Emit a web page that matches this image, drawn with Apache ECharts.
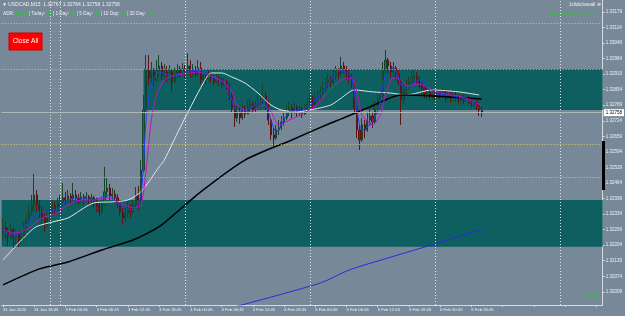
<!DOCTYPE html>
<html>
<head>
<meta charset="utf-8">
<title>USDCAD,M15</title>
<script src="https://cdn.jsdelivr.net/npm/echarts@6/dist/echarts.min.js"></script>
<style>
    html, body { margin: 0; padding: 0; background: #778899; }
    #chart { width: 625px; height: 316px; }
</style>
</head>
<body>
<div id="chart"></div>
<script>
// time labels, one every 12 bars
const timeLabels = ['31 Jan 2020', '31 Jan 16:45', '3 Feb 00:45', '3 Feb 06:45', '3 Feb 12:45', '3 Feb 18:45',
    '4 Feb 00:45', '4 Feb 06:45', '4 Feb 12:45', '4 Feb 18:45', '5 Feb 00:45', '5 Feb 06:45',
    '5 Feb 12:45', '5 Feb 18:45', '6 Feb 00:45', '6 Feb 06:45'];
const labelStep = 12;
const slotCount = 231;

// [open, close, low, high]
const candles = [
    [1.32247, 1.32276, 1.32226, 1.32318], [1.32276, 1.32259, 1.32235, 1.32301], [1.32259, 1.32243, 1.32201, 1.32276],
    [1.32243, 1.32268, 1.32226, 1.32293], [1.32268, 1.32235, 1.32192, 1.32276], [1.32235, 1.32251, 1.32209, 1.32268],
    [1.32251, 1.32226, 1.32197, 1.32259], [1.32226, 1.32243, 1.32209, 1.32268], [1.32243, 1.32276, 1.32226, 1.32301],
    [1.32276, 1.32309, 1.32259, 1.32334], [1.32309, 1.32343, 1.32293, 1.32372], [1.32343, 1.32372, 1.32326, 1.32414],
    [1.32372, 1.32414, 1.32351, 1.32502], [1.32414, 1.32372, 1.32343, 1.32435], [1.32372, 1.32351, 1.32318, 1.32393],
    [1.32351, 1.32318, 1.32293, 1.32368], [1.32318, 1.32289, 1.32259, 1.32334], [1.32289, 1.32318, 1.32276, 1.32351],
    [1.32318, 1.32343, 1.32301, 1.32372], [1.32343, 1.32368, 1.32326, 1.32393], [1.32368, 1.32351, 1.32330, 1.32385],
    [1.32351, 1.32376, 1.32343, 1.32402], [1.32376, 1.32385, 1.32360, 1.32414], [1.32385, 1.32402, 1.32368, 1.32464],
    [1.32402, 1.32393, 1.32372, 1.32427], [1.32393, 1.32410, 1.32381, 1.32435], [1.32410, 1.32397, 1.32376, 1.32422],
    [1.32397, 1.32414, 1.32385, 1.32464], [1.32414, 1.32402, 1.32381, 1.32435], [1.32402, 1.32393, 1.32376, 1.32418],
    [1.32393, 1.32406, 1.32381, 1.32427], [1.32406, 1.32397, 1.32376, 1.32418], [1.32397, 1.32406, 1.32385, 1.32427],
    [1.32406, 1.32393, 1.32372, 1.32414], [1.32393, 1.32402, 1.32381, 1.32418], [1.32402, 1.32385, 1.32360, 1.32410],
    [1.32385, 1.32368, 1.32343, 1.32402], [1.32368, 1.32343, 1.32326, 1.32381], [1.32343, 1.32372, 1.32334, 1.32402],
    [1.32372, 1.32427, 1.32368, 1.32531], [1.32427, 1.32443, 1.32402, 1.32485], [1.32443, 1.32410, 1.32393, 1.32460],
    [1.32410, 1.32418, 1.32393, 1.32443], [1.32418, 1.32402, 1.32381, 1.32435], [1.32402, 1.32381, 1.32360, 1.32418],
    [1.32381, 1.32343, 1.32326, 1.32393], [1.32343, 1.32318, 1.32289, 1.32360], [1.32318, 1.32334, 1.32301, 1.32368],
    [1.32334, 1.32360, 1.32322, 1.32385], [1.32360, 1.32343, 1.32318, 1.32376], [1.32343, 1.32372, 1.32334, 1.32393],
    [1.32372, 1.32414, 1.32360, 1.32447], [1.32414, 1.32393, 1.32351, 1.32452], [1.32393, 1.32518, 1.32372, 1.32560],
    [1.32518, 1.32769, 1.32510, 1.32832], [1.32769, 1.32936, 1.32761, 1.32999], [1.32936, 1.32903, 1.32874, 1.32999],
    [1.32903, 1.32928, 1.32878, 1.32970], [1.32928, 1.32895, 1.32870, 1.32945], [1.32895, 1.32936, 1.32886, 1.32978],
    [1.32936, 1.32953, 1.32903, 1.32999], [1.32953, 1.32916, 1.32895, 1.32970], [1.32916, 1.32928, 1.32895, 1.32961],
    [1.32928, 1.32911, 1.32886, 1.32953], [1.32911, 1.32928, 1.32895, 1.32957], [1.32928, 1.32886, 1.32845, 1.32936],
    [1.32886, 1.32920, 1.32878, 1.32945], [1.32920, 1.32936, 1.32903, 1.32961], [1.32936, 1.32924, 1.32907, 1.32953],
    [1.32924, 1.32941, 1.32911, 1.32966], [1.32941, 1.32928, 1.32903, 1.32957], [1.32928, 1.32953, 1.32916, 1.33007],
    [1.32953, 1.32920, 1.32903, 1.32978], [1.32920, 1.32936, 1.32907, 1.32961], [1.32936, 1.32924, 1.32903, 1.32953],
    [1.32924, 1.32945, 1.32911, 1.32978], [1.32945, 1.32895, 1.32878, 1.32970], [1.32895, 1.32911, 1.32882, 1.32928],
    [1.32911, 1.32899, 1.32878, 1.32924], [1.32899, 1.32916, 1.32886, 1.32936], [1.32916, 1.32903, 1.32882, 1.32928],
    [1.32903, 1.32886, 1.32870, 1.32916], [1.32886, 1.32903, 1.32878, 1.32920], [1.32903, 1.32895, 1.32870, 1.32916],
    [1.32895, 1.32878, 1.32861, 1.32907], [1.32878, 1.32886, 1.32866, 1.32903], [1.32886, 1.32870, 1.32853, 1.32895],
    [1.32870, 1.32832, 1.32811, 1.32878], [1.32832, 1.32778, 1.32761, 1.32845], [1.32778, 1.32736, 1.32698, 1.32790],
    [1.32736, 1.32761, 1.32719, 1.32786], [1.32761, 1.32736, 1.32711, 1.32778], [1.32736, 1.32769, 1.32727, 1.32794],
    [1.32769, 1.32752, 1.32736, 1.32786], [1.32752, 1.32778, 1.32752, 1.32811], [1.32778, 1.32794, 1.32761, 1.32819],
    [1.32794, 1.32769, 1.32757, 1.32803], [1.32769, 1.32790, 1.32761, 1.32811], [1.32790, 1.32803, 1.32769, 1.32828],
    [1.32803, 1.32811, 1.32778, 1.32832], [1.32811, 1.32828, 1.32794, 1.32882], [1.32828, 1.32790, 1.32769, 1.32845],
    [1.32790, 1.32727, 1.32707, 1.32811], [1.32727, 1.32665, 1.32644, 1.32736], [1.32665, 1.32652, 1.32619, 1.32694],
    [1.32652, 1.32686, 1.32644, 1.32707], [1.32686, 1.32694, 1.32665, 1.32727], [1.32694, 1.32719, 1.32686, 1.32744],
    [1.32719, 1.32736, 1.32703, 1.32761], [1.32736, 1.32761, 1.32727, 1.32790], [1.32761, 1.32778, 1.32744, 1.32803],
    [1.32778, 1.32761, 1.32736, 1.32794], [1.32761, 1.32778, 1.32752, 1.32798], [1.32778, 1.32761, 1.32740, 1.32790],
    [1.32761, 1.32769, 1.32744, 1.32786], [1.32769, 1.32752, 1.32736, 1.32782], [1.32752, 1.32778, 1.32748, 1.32794],
    [1.32778, 1.32794, 1.32769, 1.32819], [1.32794, 1.32811, 1.32782, 1.32836], [1.32811, 1.32794, 1.32773, 1.32828],
    [1.32794, 1.32819, 1.32786, 1.32845], [1.32819, 1.32828, 1.32803, 1.32853], [1.32828, 1.32845, 1.32811, 1.32870],
    [1.32845, 1.32861, 1.32832, 1.32886], [1.32861, 1.32878, 1.32845, 1.32903], [1.32878, 1.32895, 1.32861, 1.32920],
    [1.32895, 1.32886, 1.32866, 1.32911], [1.32886, 1.32911, 1.32878, 1.32936], [1.32911, 1.32928, 1.32895, 1.32953],
    [1.32928, 1.32920, 1.32899, 1.32945], [1.32920, 1.32953, 1.32911, 1.32991], [1.32953, 1.32936, 1.32920, 1.32970],
    [1.32936, 1.32920, 1.32895, 1.32953], [1.32920, 1.32903, 1.32878, 1.32936], [1.32903, 1.32878, 1.32861, 1.32920],
    [1.32878, 1.32778, 1.32761, 1.32886], [1.32778, 1.32686, 1.32652, 1.32790], [1.32686, 1.32644, 1.32602, 1.32707],
    [1.32644, 1.32707, 1.32636, 1.32736], [1.32707, 1.32686, 1.32652, 1.32727], [1.32686, 1.32727, 1.32677, 1.32761],
    [1.32727, 1.32744, 1.32703, 1.32769], [1.32744, 1.32719, 1.32694, 1.32761], [1.32719, 1.32769, 1.32711, 1.32811],
    [1.32769, 1.32811, 1.32752, 1.32836], [1.32811, 1.32828, 1.32786, 1.32853], [1.32828, 1.32936, 1.32819, 1.32970],
    [1.32936, 1.32978, 1.32920, 1.33020], [1.32978, 1.32953, 1.32920, 1.32987], [1.32953, 1.32928, 1.32903, 1.32970],
    [1.32928, 1.32945, 1.32911, 1.32970], [1.32945, 1.32920, 1.32895, 1.32953], [1.32920, 1.32886, 1.32870, 1.32936],
    [1.32886, 1.32811, 1.32707, 1.32895], [1.32811, 1.32853, 1.32794, 1.32878], [1.32853, 1.32870, 1.32836, 1.32895],
    [1.32870, 1.32886, 1.32853, 1.32911], [1.32886, 1.32903, 1.32870, 1.32928], [1.32903, 1.32911, 1.32886, 1.32936],
    [1.32911, 1.32895, 1.32878, 1.32928], [1.32895, 1.32878, 1.32861, 1.32911], [1.32878, 1.32861, 1.32836, 1.32886],
    [1.32861, 1.32836, 1.32819, 1.32870], [1.32836, 1.32845, 1.32811, 1.32870], [1.32845, 1.32828, 1.32811, 1.32853],
    [1.32828, 1.32836, 1.32811, 1.32853], [1.32836, 1.32828, 1.32811, 1.32853], [1.32828, 1.32845, 1.32819, 1.32861],
    [1.32845, 1.32832, 1.32815, 1.32853], [1.32832, 1.32845, 1.32819, 1.32861], [1.32845, 1.32828, 1.32803, 1.32853],
    [1.32828, 1.32836, 1.32811, 1.32853], [1.32836, 1.32819, 1.32798, 1.32845], [1.32819, 1.32832, 1.32807, 1.32853],
    [1.32832, 1.32824, 1.32803, 1.32845], [1.32824, 1.32811, 1.32794, 1.32836], [1.32811, 1.32819, 1.32798, 1.32836],
    [1.32819, 1.32811, 1.32794, 1.32832], [1.32811, 1.32819, 1.32803, 1.32836], [1.32819, 1.32807, 1.32794, 1.32828],
    [1.32807, 1.32794, 1.32778, 1.32819], [1.32794, 1.32803, 1.32782, 1.32819], [1.32803, 1.32786, 1.32769, 1.32811],
    [1.32786, 1.32769, 1.32744, 1.32794], [1.32767, 1.32758, 1.32740, 1.32786]
];

// price scale
const priceTicks = [1.33179, 1.33114, 1.33049, 1.32984, 1.32919, 1.32854, 1.32789, 1.32724, 1.32659, 1.32594,
    1.32529, 1.32464, 1.32399, 1.32334, 1.32269, 1.32204, 1.32139, 1.32074, 1.32009];
const priceMin = 1.31954;
const priceMax = 1.33229;

// moving averages, read at a few bars each: [bar index], [value]
const blackMaIdx = [0, 14, 25, 38, 50, 55, 61, 76, 93, 111, 126, 130, 141, 153, 165, 184];
const blackMaVals = [1.32038, 1.32105, 1.32134, 1.32184, 1.32226, 1.32251, 1.32289, 1.32427, 1.32560, 1.32644,
    1.32715, 1.32732, 1.32782, 1.32832, 1.32828, 1.32815];
const slowBlueIdx = [89, 122, 133, 153, 184];
const slowBlueVals = [1.31946, 1.32046, 1.32100, 1.32167, 1.32268];
const whiteMaIdx = [0, 12, 19, 25, 35, 42, 48, 53, 60, 62, 68, 77, 80, 84, 88, 93, 98, 103, 107, 113, 118, 126,
    130, 135, 142, 149, 155, 165, 175, 183];
const whiteMaVals = [1.32142, 1.32276, 1.32301, 1.32318, 1.32381, 1.32385, 1.32393, 1.32427, 1.32531, 1.32560,
    1.32694, 1.32882, 1.32924, 1.32924, 1.32907, 1.32882, 1.32840, 1.32790, 1.32769, 1.32761, 1.32769, 1.32790,
    1.32819, 1.32853, 1.32845, 1.32840, 1.32832, 1.32853, 1.32845, 1.32832];
const fastBlueIdx = [0, 5, 10, 15, 20, 25, 30, 35, 40, 45, 50, 53, 55, 57, 60, 65, 70, 75, 80, 85, 88, 90, 95, 100,
    103, 105, 110, 115, 120, 125, 130, 134, 136, 138, 142, 145, 147, 150, 153, 155, 160, 165, 170, 175, 180, 184];
const fastBlueVals = [1.32259, 1.32247, 1.32301, 1.32343, 1.32351, 1.32393, 1.32402, 1.32393, 1.32414, 1.32372,
    1.32351, 1.32414, 1.32727, 1.32874, 1.32928, 1.32911, 1.32928, 1.32936, 1.32907, 1.32882, 1.32811, 1.32761,
    1.32778, 1.32811, 1.32727, 1.32677, 1.32761, 1.32769, 1.32811, 1.32878, 1.32936, 1.32903, 1.32769, 1.32686,
    1.32719, 1.32803, 1.32916, 1.32945, 1.32874, 1.32861, 1.32895, 1.32840, 1.32832, 1.32824, 1.32803, 1.32769];
const magentaIdx = [0, 5, 10, 15, 20, 25, 30, 35, 40, 45, 50, 53, 55, 57, 59, 62, 65, 70, 75, 80, 85, 88, 90, 95,
    100, 103, 106, 110, 115, 120, 125, 130, 134, 136, 138, 142, 145, 147, 150, 153, 155, 160, 165, 170, 175, 180, 184];
const magentaVals = [1.32268, 1.32255, 1.32276, 1.32318, 1.32334, 1.32372, 1.32393, 1.32393, 1.32402, 1.32381,
    1.32360, 1.32372, 1.32518, 1.32727, 1.32832, 1.32895, 1.32911, 1.32920, 1.32928, 1.32911, 1.32886, 1.32845,
    1.32790, 1.32761, 1.32790, 1.32761, 1.32707, 1.32727, 1.32752, 1.32786, 1.32845, 1.32895, 1.32903, 1.32845,
    1.32748, 1.32707, 1.32748, 1.32832, 1.32903, 1.32895, 1.32870, 1.32878, 1.32853, 1.32836, 1.32828, 1.32811,
    1.32786];

// levels and zones
const levelPrices = [1.33133, 1.32941, 1.32761, 1.32627, 1.32489];
const separatorIdx = [18, 22, 70, 118, 166, 214];
const upperZone = [1.32941, 1.32769];
const upperZoneStart = 54;
const lowerZone = [1.32393, 1.32197];
const bidPrice = 1.32758;
const askPrice = 1.32771;

(function () {
    const el = document.getElementById('chart');
    const chart = echarts.init(el, null, {renderer: 'canvas'});
    const font = '"Liberation Sans", Arial, sans-serif';
    const textColor = '#eef2f6';
    const green = '#1ed21e';

    const categories = [];
    for (let i = 0; i < slotCount; i++) {
        categories.push(i % labelStep === 0 && timeLabels[i / labelStep] ? timeLabels[i / labelStep] : '');
    }

    function pairs(idx, vals) {
        return idx.map(function (x, i) { return [x, vals[i]]; });
    }

    function maLine(name, idx, vals, color, width) {
        return {
            name: name,
            type: 'line',
            data: pairs(idx, vals),
            showSymbol: false,
            smooth: 0.25,
            silent: true,
            z: 3,
            lineStyle: {color: color, width: width}
        };
    }

    /*level lines, day separators, bid / ask*/
    const marks = levelPrices.map(function (p) {
        return {yAxis: p, lineStyle: {color: '#d8d44c', type: [1, 2], width: 1}};
    });
    separatorIdx.forEach(function (i) {
        marks.push({xAxis: i, lineStyle: {color: '#dfe4e8', type: [1, 2], width: 1}});
    });
    marks.push({
        yAxis: bidPrice,
        lineStyle: {color: '#b4bec6', type: 'solid', width: 0.8},
        label: {
            show: true, position: 'end', distance: 1, formatter: bidPrice.toFixed(5),
            backgroundColor: '#ffffff', color: '#000', fontSize: 4.5, fontFamily: font, padding: [1, 2]
        }
    });
    marks.push({
        yAxis: askPrice,
        lineStyle: {opacity: 0},
        label: {
            show: true, position: 'end', distance: 1, formatter: askPrice.toFixed(5),
            backgroundColor: green, color: green, fontSize: 3, fontFamily: font, padding: [0, 2]
        }
    });

    const whiteLine = maLine('white', whiteMaIdx, whiteMaVals, '#e4e6e8', 1);
    whiteLine.markLine = {
        silent: true,
        symbol: 'none',
        precision: 5,
        label: {show: false},
        z: 6,
        data: marks
    };

    const option = {
        backgroundColor: '#778899',
        animation: false,
        grid: {left: 0, right: 22, top: 0, bottom: 11, containLabel: false},
        xAxis: {
            type: 'category',
            data: categories,
            boundaryGap: true,
            axisLine: {lineStyle: {color: '#d4dadf', width: 1}},
            axisTick: {
                show: true, alignWithLabel: true, length: 2,
                interval: function (i) { return i % labelStep === 0; },
                lineStyle: {color: '#d4dadf'}
            },
            axisLabel: {
                interval: function (i) { return i % labelStep === 0; },
                align: 'left', color: textColor, fontSize: 4.2, fontFamily: font, margin: 3
            },
            splitLine: {show: false}
        },
        yAxis: {
            type: 'value',
            position: 'right',
            min: priceMin,
            max: priceMax,
            axisLine: {show: true, lineStyle: {color: '#d4dadf', width: 1}},
            axisTick: {show: true, length: 2, customValues: priceTicks, lineStyle: {color: '#d4dadf'}},
            axisLabel: {
                customValues: priceTicks,
                formatter: function (v) { return v.toFixed(5); },
                color: textColor, fontSize: 4.5, fontFamily: font, margin: 3
            },
            splitLine: {show: false}
        },
        series: [
            {
                name: 'USDCAD,M15',
                type: 'candlestick',
                data: candles,
                barWidth: 1.6,
                silent: true,
                itemStyle: {
                    color: '#0f7a30', color0: '#a81010',
                    borderColor: '#17462a', borderColor0: '#5e1414', borderWidth: 1
                },
                markArea: {
                    silent: true,
                    itemStyle: {color: '#0d5f60', opacity: 1},
                    data: [
                        [{xAxis: upperZoneStart, yAxis: upperZone[0]}, {yAxis: upperZone[1]}],
                        [{yAxis: lowerZone[0]}, {yAxis: lowerZone[1]}]
                    ]
                }
            },
            whiteLine,
            maLine('black', blackMaIdx, blackMaVals, '#000000', 1.5),
            maLine('slow', slowBlueIdx, slowBlueVals, '#2a2ae0', 1),
            maLine('magenta', magentaIdx, magentaVals, '#c410c4', 1),
            maLine('fast', fastBlueIdx, fastBlueVals, '#2040ff', 1)
        ],
        graphic: [
            {
                type: 'text', x: 2, y: 2, z: 10,
                style: {text: '\u25BC USDCAD,M15  1.32767 1.32784 1.32758 1.32758', fill: textColor, fontSize: 5, fontFamily: font}
            },
            {
                type: 'text', x: 3, y: 11, z: 10,
                style: {
                    text: '{w|ADR: }{g|107%}{w| | Today: }{g|13}{w| | 1 Day: }{g|46}{w| | 5 Day: }{g|43}{w| | 10 Day: }{g|43}{w| | 20 Day: }{g|42}',
                    fontSize: 4.7, fontFamily: font,
                    rich: {
                        w: {fill: textColor, fontSize: 4.7, fontFamily: font},
                        g: {fill: green, fontSize: 4.7, fontFamily: font}
                    }
                }
            },
            {
                type: 'rect', x: 9, y: 33, z: 10,
                shape: {width: 33, height: 17},
                style: {fill: '#ff0000', stroke: '#d00000'}
            },
            {
                type: 'text', x: 25.5, y: 41.5, z: 11,
                style: {text: 'Close All', fill: '#ffffff', fontSize: 6.5, fontFamily: font, align: 'center', verticalAlign: 'middle'}
            },
            {
                type: 'text', x: 569, y: 2, z: 10,
                style: {text: '1clickcloseall \u2297', fill: textColor, fontSize: 4.5, fontFamily: font}
            },
            {
                type: 'text', x: 548, y: 11, z: 10,
                style: {text: 'Spread: 13 points.', fill: green, fontSize: 6, fontFamily: font}
            },
            {
                type: 'text', x: 586, y: 290, z: 10,
                style: {text: '0.0', fill: green, fontSize: 8.5, fontFamily: font}
            },
            {
                type: 'rect', x: 602, y: 141, z: 100,
                shape: {width: 3, height: 49},
                style: {fill: '#000000'}
            }
        ]
    };

    chart.setOption(option);
})();
</script>
</body>
</html>
